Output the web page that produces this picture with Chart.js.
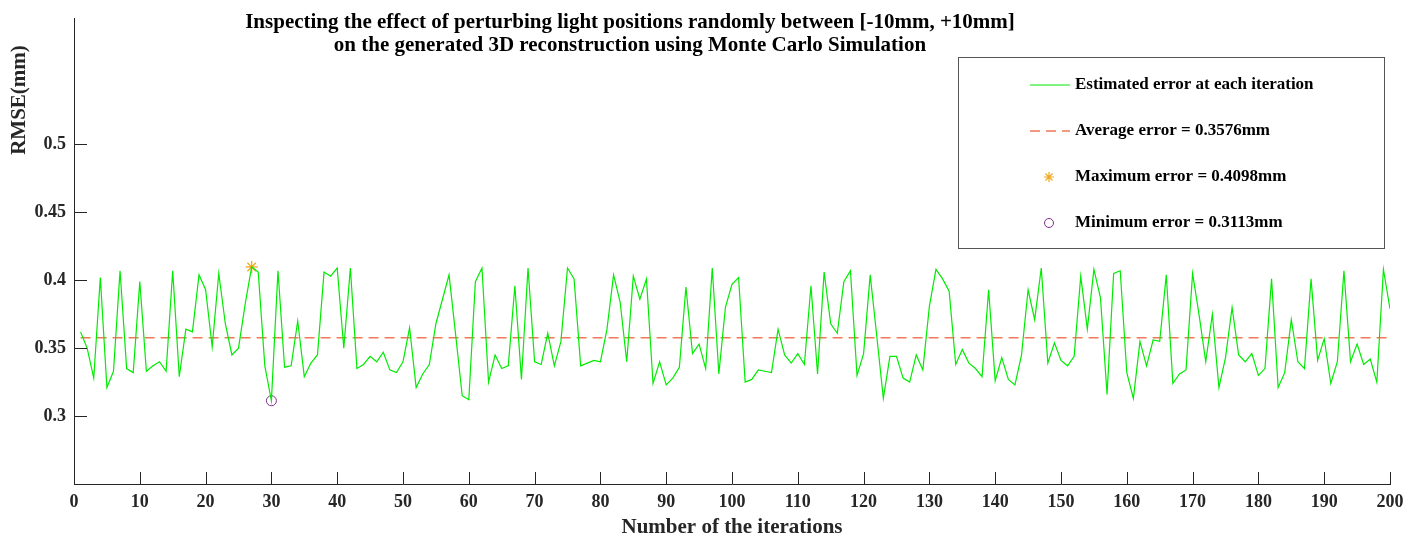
<!DOCTYPE html>
<html>
<head>
<meta charset="utf-8">
<script src="https://cdn.jsdelivr.net/npm/chart.js"></script>
<style>
  body { margin: 0; background: #fff; }
  #wrap { width: 1422px; height: 540px; }
</style>
</head>
<body>
<div id="wrap"><canvas id="chart" width="1422" height="540"></canvas></div>
<script>
// values
const titleLines = [
  "Inspecting the effect of perturbing light positions randomly between [-10mm, +10mm]",
  "on the generated 3D reconstruction using Monte Carlo Simulation"
];
const xLabel = "Number of the iterations";
const yLabel = "RMSE(mm)";
const yTicks = [0.3, 0.35, 0.4, 0.45, 0.5];

const rmse = [
  0.362, 0.350, 0.328, 0.402, 0.321, 0.333, 0.407, 0.335, 0.332, 0.399,
  0.333, 0.337, 0.340, 0.333, 0.407, 0.329, 0.364, 0.362, 0.404, 0.393,
  0.351, 0.405, 0.368, 0.345, 0.350, 0.382, 0.4098, 0.406, 0.337, 0.3113,
  0.407, 0.336, 0.337, 0.370, 0.329, 0.339, 0.345, 0.406, 0.403, 0.409,
  0.350, 0.409, 0.335, 0.338, 0.344, 0.340, 0.347, 0.334, 0.332, 0.340,
  0.365, 0.321, 0.331, 0.338, 0.368, 0.386, 0.404, 0.360, 0.315, 0.312,
  0.399, 0.409, 0.325, 0.345, 0.335, 0.337, 0.396, 0.327, 0.409, 0.340,
  0.338, 0.361, 0.337, 0.355, 0.409, 0.401, 0.337, 0.339, 0.341, 0.340,
  0.364, 0.404, 0.384, 0.340, 0.403, 0.386, 0.401, 0.324, 0.340, 0.323,
  0.328, 0.336, 0.395, 0.346, 0.353, 0.335, 0.409, 0.331, 0.380, 0.397,
  0.402, 0.325, 0.327, 0.334, 0.333, 0.332, 0.364, 0.345, 0.339, 0.346,
  0.338, 0.396, 0.331, 0.406, 0.368, 0.361, 0.399, 0.407, 0.330, 0.346,
  0.404, 0.359, 0.313, 0.344, 0.344, 0.328, 0.325, 0.345, 0.334, 0.381,
  0.408, 0.401, 0.392, 0.338, 0.349, 0.339, 0.335, 0.329, 0.393, 0.326,
  0.343, 0.327, 0.323, 0.345, 0.393, 0.371, 0.409, 0.339, 0.354, 0.341,
  0.337, 0.344, 0.403, 0.364, 0.408, 0.387, 0.316, 0.405, 0.407, 0.332,
  0.313, 0.355, 0.337, 0.356, 0.355, 0.404, 0.324, 0.331, 0.334, 0.405,
  0.374, 0.340, 0.375, 0.321, 0.343, 0.380, 0.345, 0.340, 0.346, 0.330,
  0.335, 0.401, 0.321, 0.332, 0.371, 0.340, 0.335, 0.401, 0.341, 0.357,
  0.324, 0.340, 0.407, 0.340, 0.353, 0.338, 0.342, 0.325, 0.408, 0.379
];
const iterations = rmse.map((_, i) => i + 1);

const avgError = 0.3576;
const maxIter = 27, maxError = 0.4098;
const minIter = 30, minError = 0.3113;

const labels = [
  "Estimated error at each iteration",
  "Average error = 0.3576mm",
  "Maximum error = 0.4098mm",
  "Minimum error = 0.3113mm"
];

const GREEN = "rgb(0,235,0)";
const ORANGE = "rgb(238,122,88)";
const YELLOW = "rgb(237,170,32)";
const PURPLE = "rgb(126,47,142)";
const INK = "#262626";
const SERIF = '"Liberation Serif", "Times New Roman", serif';

// draws the title, y label, inward ticks and the boxed legend
const decor = {
  id: "decor",
  afterDraw(chart) {
    const ctx = chart.ctx;
    const xs = chart.scales.x, ys = chart.scales.y;
    const a = chart.chartArea;
    ctx.save();
    ctx.strokeStyle = INK;
    ctx.lineWidth = 1;
    xs.ticks.forEach(t => {
      const px = Math.round(xs.getPixelForValue(t.value)) + 0.5;
      ctx.beginPath(); ctx.moveTo(px, a.bottom); ctx.lineTo(px, a.bottom - 12); ctx.stroke();
    });
    ys.ticks.forEach(t => {
      const py = Math.round(ys.getPixelForValue(t.value)) + 0.5;
      ctx.beginPath(); ctx.moveTo(a.left, py); ctx.lineTo(a.left + 13, py); ctx.stroke();
    });

    ctx.fillStyle = "#000";
    ctx.textAlign = "center";
    ctx.textBaseline = "middle";
    ctx.font = "bold 21px " + SERIF;
    titleLines.forEach((l, i) => ctx.fillText(l, 630, 23 + i * 23));

    ctx.save();
    ctx.fillStyle = INK;
    ctx.translate(20, 100);
    ctx.rotate(-Math.PI / 2);
    ctx.fillText(yLabel, 0, 0);
    ctx.restore();

    // legend box
    const bx = 958.5, by = 57.5, bw = 426, bh = 191;
    ctx.fillStyle = "#fff";
    ctx.fillRect(bx, by, bw, bh);
    ctx.strokeStyle = "#555";
    ctx.strokeRect(bx, by, bw, bh);
    const rows = [85, 131, 177, 223];
    ctx.font = "bold 17px " + SERIF;
    ctx.textAlign = "left";
    ctx.fillStyle = "#000";
    rows.forEach((ry, i) => ctx.fillText(labels[i], 1075, ry));

    ctx.lineWidth = 1.2;
    ctx.strokeStyle = GREEN;
    ctx.beginPath(); ctx.moveTo(1030, rows[0]); ctx.lineTo(1070, rows[0]); ctx.stroke();
    ctx.strokeStyle = ORANGE;
    ctx.lineWidth = 1.5;
    ctx.setLineDash([10, 6]);
    ctx.beginPath(); ctx.moveTo(1030, rows[1]); ctx.lineTo(1070, rows[1]); ctx.stroke();
    ctx.setLineDash([]);
    ctx.lineWidth = 1.2;
    ctx.strokeStyle = YELLOW;
    ctx.beginPath();
    for (let k = 0; k < 4; k++) {
      const ang = k * Math.PI / 4;
      ctx.moveTo(1049 - 5 * Math.cos(ang), rows[2] - 5 * Math.sin(ang));
      ctx.lineTo(1049 + 5 * Math.cos(ang), rows[2] + 5 * Math.sin(ang));
    }
    ctx.stroke();
    ctx.lineWidth = 1;
    ctx.strokeStyle = PURPLE;
    ctx.beginPath(); ctx.arc(1049, rows[3], 4.5, 0, Math.PI * 2); ctx.stroke();
    ctx.restore();
  }
};

new Chart(document.getElementById("chart"), {
  type: "line",
  data: {
    datasets: [
      {
        label: labels[0],
        data: iterations.map((it, i) => ({ x: it, y: rmse[i] })),
        borderColor: GREEN,
        borderWidth: 1.2,
        pointRadius: 0,
        tension: 0
      },
      {
        label: labels[1],
        data: [{ x: iterations[0], y: avgError }, { x: iterations[iterations.length - 1], y: avgError }],
        borderColor: ORANGE,
        borderWidth: 1.5,
        borderDash: [10, 6],
        pointRadius: 0
      },
      {
        label: labels[2],
        data: [{ x: maxIter, y: maxError }],
        showLine: false,
        pointStyle: "star",
        pointRadius: 6,
        borderColor: YELLOW,
        borderWidth: 1.3
      },
      {
        label: labels[3],
        data: [{ x: minIter, y: minError }],
        showLine: false,
        pointStyle: "circle",
        pointRadius: 5,
        borderColor: PURPLE,
        backgroundColor: "rgba(0,0,0,0)",
        borderWidth: 1
      }
    ]
  },
  options: {
    responsive: false,
    animation: false,
    devicePixelRatio: 1,
    layout: { padding: { top: 5, right: 32, left: 0, bottom: 0 } },
    plugins: { legend: { display: false }, tooltip: { enabled: false }, title: { display: false } },
    scales: {
      x: {
        type: "linear",
        min: 0,
        max: 200,
        grid: { display: false, drawTicks: false },
        border: { display: true, color: INK, width: 1 },
        ticks: {
          stepSize: 10,
          padding: 8,
          color: INK,
          font: { family: SERIF, size: 18, weight: "bold" },
          maxRotation: 0
        },
        title: {
          display: true,
          text: xLabel,
          color: INK,
          font: { family: SERIF, size: 21, weight: "bold" },
          padding: { top: 1, bottom: 0 }
        },
        afterFit: s => { s.height = 56; }
      },
      y: {
        min: 0.25,
        max: 0.5925,
        grid: { display: false, drawTicks: false },
        border: { display: true, color: INK, width: 1 },
        afterBuildTicks: s => { s.ticks = yTicks.map(v => ({ value: v })); },
        ticks: {
          padding: 8,
          color: INK,
          font: { family: SERIF, size: 18, weight: "bold" },
          callback: v => String(v)
        },
        afterFit: s => { s.width = 74; }
      }
    }
  },
  plugins: [decor]
});
</script>
</body>
</html>
